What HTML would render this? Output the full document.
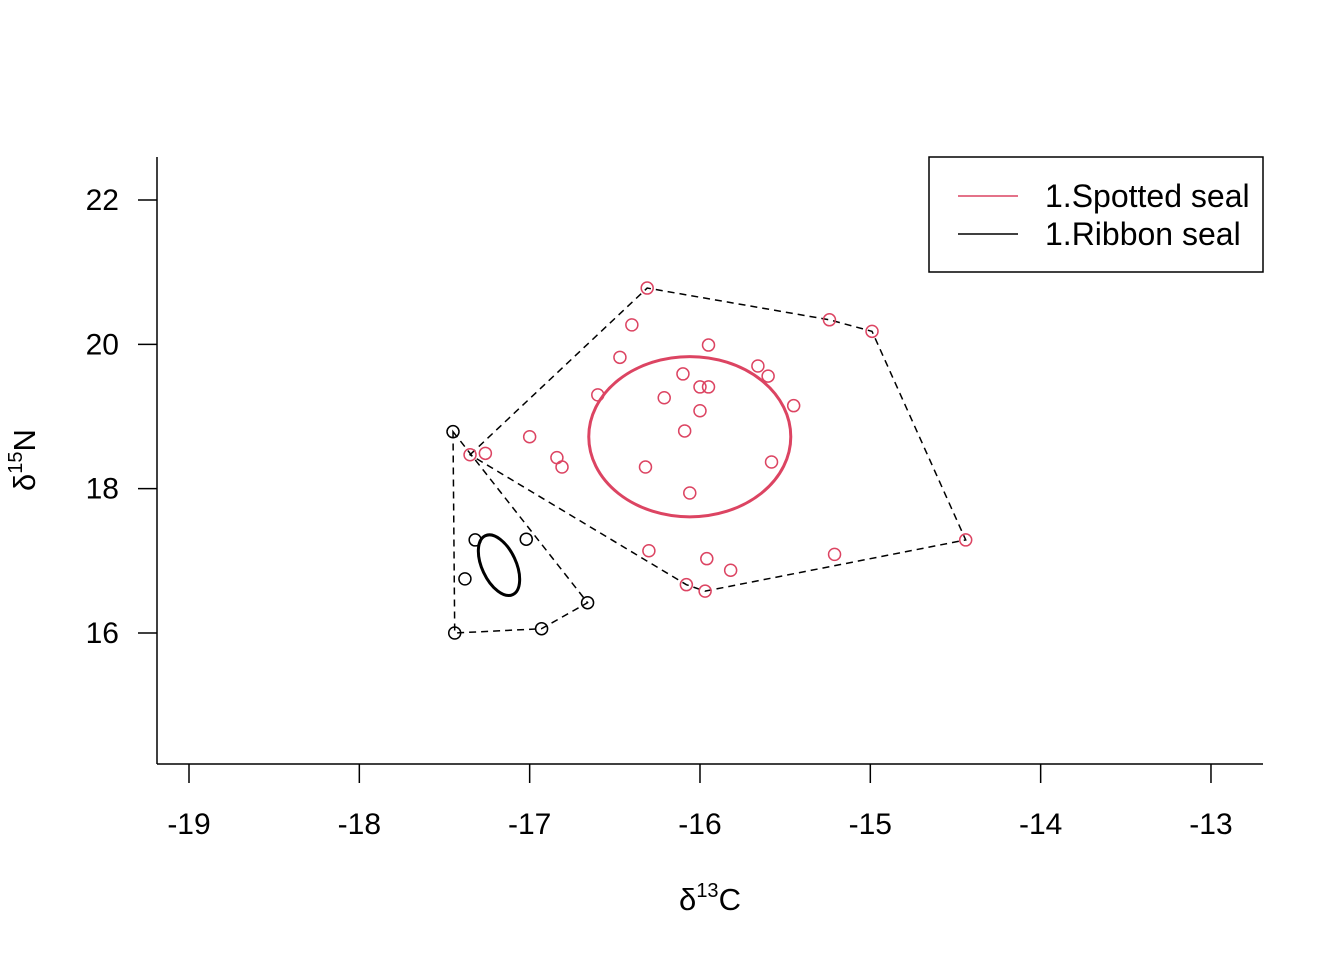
<!DOCTYPE html>
<html><head><meta charset="utf-8"><style>
body{margin:0;background:#fff}
svg text{font-family:"Liberation Sans",Arial,sans-serif;fill:#000}
</style></head><body>
<svg id="c" width="1344" height="960" xmlns="http://www.w3.org/2000/svg"></svg>
<script>
const xTicks=[-19,-18,-17,-16,-15,-14,-13];
const yTicks=[16,18,20,22];
const spottedX=[-16.31,-16.40,-16.47,-15.95,-15.24,-14.99,-16.60,-16.10,-16.00,-15.95,-15.66,-15.60,-15.45,-16.21,-16.00,-16.09,-17.00,-16.84,-16.81,-17.35,-17.26,-16.32,-16.06,-15.58,-16.30,-16.08,-15.97,-15.96,-15.82,-15.21,-14.44];
const spottedY=[20.78,20.27,19.82,19.99,20.34,20.18,19.30,19.59,19.41,19.41,19.70,19.56,19.15,19.26,19.08,18.80,18.72,18.43,18.30,18.47,18.49,18.30,17.94,18.37,17.14,16.67,16.58,17.03,16.87,17.09,17.29];
const ribbonX=[-17.45,-17.32,-17.02,-17.38,-17.44,-16.93,-16.66];
const ribbonY=[18.79,17.29,17.30,16.75,16.00,16.06,16.42];
const spottedEllipse=[-16.06,18.72,0.593,1.11,0];
const ribbonEllipse=[-17.18,16.94,0.10,0.45,-25];
const RED='#DC4462';
const NS="http://www.w3.org/2000/svg";
const svg=document.getElementById('c');
const X=v=>189+(v+19)*170.33;
const Y=v=>200+(22-v)*72.17;
function mk(t,a,p){const e=document.createElementNS(NS,t);for(const k in a)e.setAttribute(k,a[k]);(p||svg).appendChild(e);return e;}
let e;
e=mk('line',{x1:157,y1:157,x2:157,y2:764,stroke:'#000','stroke-width':1.5});


e=mk('line',{x1:157,y1:764,x2:1263,y2:764,stroke:'#000','stroke-width':1.5});


xTicks.forEach(t=>{
 e=mk('line',{x1:X(t),y1:764,x2:X(t),y2:783,stroke:'#000','stroke-width':1.5});
 
 
 e=mk('text',{x:X(t),y:834,'text-anchor':'middle','font-size':30});e.textContent=t;
 
 
});
yTicks.forEach(t=>{
 e=mk('line',{x1:138,y1:Y(t),x2:157,y2:Y(t),stroke:'#000','stroke-width':1.5});
 
 
 e=mk('text',{x:119,y:Y(t)+10,'text-anchor':'end','font-size':30});e.textContent=t;
 
 
});
function hull(xs,ys){
 const p=xs.map((x,i)=>[X(x),Y(ys[i])]).sort((a,b)=>a[0]-b[0]||a[1]-b[1]);
 const cr=(o,a,b)=>(a[0]-o[0])*(b[1]-o[1])-(a[1]-o[1])*(b[0]-o[0]);
 const lo=[],up=[];
 for(const q of p){while(lo.length>=2&&cr(lo[lo.length-2],lo[lo.length-1],q)<=0)lo.pop();lo.push(q);}
 for(const q of p.slice().reverse()){while(up.length>=2&&cr(up[up.length-2],up[up.length-1],q)<=0)up.pop();up.push(q);}
 lo.pop();up.pop();return lo.concat(up);
}
[[spottedX,spottedY,'spotted-hull'],[ribbonX,ribbonY,'ribbon-hull']].forEach(([xs,ys,n])=>{
 e=mk('polygon',{points:hull(xs,ys).map(p=>p.join(',')).join(' '),fill:'none',stroke:'#000','stroke-width':1.5,'stroke-dasharray':'7,5'});
 
 
});
spottedX.forEach((x,i)=>{
 e=mk('circle',{cx:X(x),cy:Y(spottedY[i]),r:6,fill:'none',stroke:RED,'stroke-width':1.5});
 
 
});
ribbonX.forEach((x,i)=>{
 e=mk('circle',{cx:X(x),cy:Y(ribbonY[i]),r:6,fill:'none',stroke:'#000','stroke-width':1.5});
 
 
});
[[spottedEllipse,RED,'spotted-ellipse'],[ribbonEllipse,'#000','ribbon-ellipse']].forEach(([el,c,n])=>{
 const cx=X(el[0]),cy=Y(el[1]);
 e=mk('ellipse',{cx:cx,cy:cy,rx:el[2]*170.33,ry:el[3]*72.17,transform:`rotate(${el[4]} ${cx} ${cy})`,fill:'none',stroke:c,'stroke-width':3});
 
 
});
const lg=mk('g',{});


mk('rect',{x:929,y:157,width:334,height:115,fill:'#fff',stroke:'#000','stroke-width':1.5},lg);
[['1.Spotted seal',RED,196],['1.Ribbon seal','#000',234]].forEach(([t,c,y])=>{
 e=mk('line',{x1:958,y1:y,x2:1018,y2:y,stroke:c,'stroke-width':1.5},lg);
 
 
 e=mk('text',{x:1045,y:y+11,'font-size':32},lg);e.textContent=t;
 
 
});
e=mk('text',{x:710,y:910,'text-anchor':'middle','font-size':31});
e.innerHTML='δ<tspan font-size="20" dy="-13">13</tspan><tspan dy="13">C</tspan>';


e=mk('text',{x:0,y:0,'text-anchor':'middle','font-size':31,transform:'translate(35,460) rotate(-90)'});
e.innerHTML='δ<tspan font-size="20" dy="-13">15</tspan><tspan dy="13">N</tspan>';


</script>
</body></html>
